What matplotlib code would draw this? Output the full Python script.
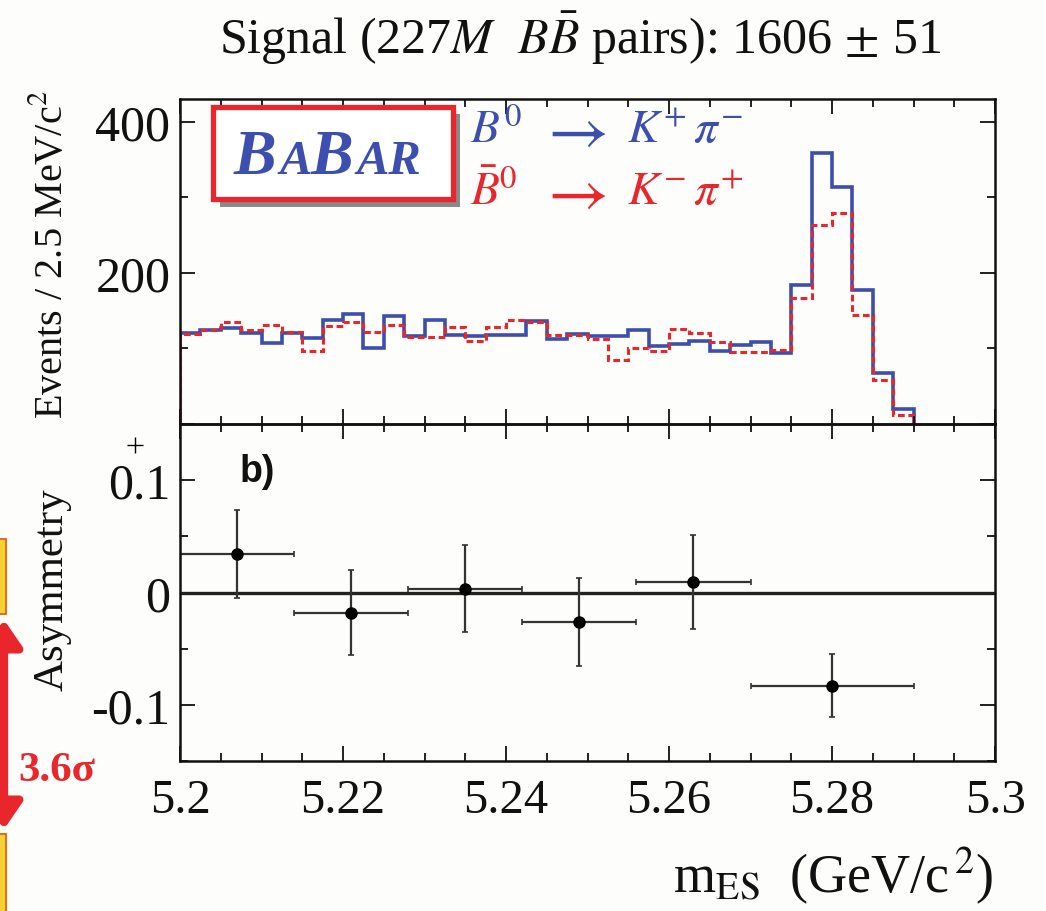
import numpy as np
import matplotlib
matplotlib.use("Agg")
import matplotlib.pyplot as plt
from matplotlib.patches import Rectangle, FancyArrowPatch
from matplotlib.lines import Line2D
from matplotlib.ticker import MultipleLocator, FuncFormatter

# ---------------- data ----------------
mes_lo = 5.2
bin_width = 0.0025
# B0 -> K+ pi-  (blue, solid)
blue_counts = [121, 124, 127, 120, 107, 121, 114, 137, 145, 100,
               143, 116, 137, 118, 116, 118, 118, 136, 113, 119,
               117, 117, 124, 103, 106, 110, 97, 104, 108, 94,
               184, 359, 313, 177, 68, 20]
# B0bar -> K- pi+ (red, dashed)
red_counts = [119, 124, 135, 124, 131, 122, 97, 130, 135, 122,
              131, 115, 115, 129, 110, 128, 137, 135, 118, 118,
              112, 85, 101, 96, 126, 120, 108, 95, 95, 98,
              167, 263, 279, 144, 58, 12]
# asymmetry points
asym_x = [5.207, 5.221, 5.235, 5.249, 5.263, 5.280]
asym_xerr = [0.007, 0.007, 0.007, 0.007, 0.007, 0.010]
asym_y = [0.034, -0.018, 0.0035, -0.0265, 0.0095, -0.083]
asym_yerr = [0.039, 0.038, 0.039, 0.039, 0.042, 0.028]

x_ticks = [5.2, 5.22, 5.24, 5.26, 5.28, 5.3]

# ---------------- style ----------------
plt.rcParams['font.family'] = ['Liberation Serif', 'DejaVu Serif']
plt.rcParams['mathtext.fontset'] = 'stix'
plt.rcParams['axes.unicode_minus'] = False

BLUE = '#3d4fae'
RED = '#e8262b'
BG = '#fdfdfb'

W, H = 1046, 912
fig = plt.figure(figsize=(W / 100, H / 100), dpi=100, facecolor=BG)


def fx(x):
    return x / W


def fy(y):
    return 1 - y / H


ax1 = fig.add_axes([fx(180), fy(425), (995 - 180) / W, (425 - 100) / H])
ax2 = fig.add_axes([fx(180), fy(762), (995 - 180) / W, (762 - 425) / H], sharex=ax1)

edges = mes_lo + bin_width * np.arange(len(blue_counts) + 1)
ax1.stairs(blue_counts, edges, color=BLUE, lw=2.6, baseline=0)
ax1.stairs(red_counts, edges, color=RED, lw=2.2, ls=(0, (2.2, 1.2)), baseline=0)

ax2.axhline(0, color='#222222', lw=2.4)
ax2.errorbar(asym_x, asym_y, xerr=asym_xerr, yerr=asym_yerr, fmt='o', color='black',
             ms=8, ecolor='#333333', elinewidth=1.6, capsize=2, capthick=1.2)

for ax in (ax1, ax2):
    ax.set_facecolor('none')
    ax.tick_params(which='both', direction='in', top=True, right=True,
                   labelsize=36, colors='#111111')
    ax.tick_params(which='major', length=11, width=1.3, pad=7)
    ax.tick_params(which='minor', length=6, width=1.3)
    for s in ax.spines.values():
        s.set_linewidth(1.8)
        s.set_color('#111111')

ax1.set_xlim(5.2, 5.3)
ax1.xaxis.set_major_locator(MultipleLocator(0.02))
ax1.xaxis.set_minor_locator(MultipleLocator(0.005))
ax1.tick_params(labelbottom=False)
ax1.set_ylim(0, 430)
ax1.yaxis.set_major_locator(MultipleLocator(200))
ax1.yaxis.set_minor_locator(MultipleLocator(100))
ax1.yaxis.set_major_formatter(FuncFormatter(lambda v, p: '' if v <= 0 else f'{v:.0f}'))

ax2.set_ylim(-0.15, 0.15)
ax2.yaxis.set_major_locator(MultipleLocator(0.1))
ax2.yaxis.set_minor_locator(MultipleLocator(0.05))
ax2.yaxis.set_major_formatter(FuncFormatter(lambda v, p: '0' if abs(v) < 1e-9 else f'{round(v, 3):g}'))
ax2.set_xticks(x_ticks)
ax2.xaxis.set_minor_locator(MultipleLocator(0.005))
ax2.xaxis.set_major_formatter(FuncFormatter(lambda v, p: f'{round(v, 3):g}'))
ax2.tick_params(axis='x', labelsize=35, pad=12)

# ---------------- texts ----------------
fig.text(fx(580), fy(38), r"Signal (227$M$  $B\bar{B}$ pairs): 1606$\,\pm\,$51",
         ha='center', va='center', fontsize=36, color='#111111')
fig.text(fx(52), fy(255), r"Events / 2.5 MeV/c$^2$", rotation=90, ha='center', va='center',
         fontsize=29, color='#111111')
fig.text(fx(52), fy(590), "Asymmetry", rotation=90, ha='center', va='center',
         fontsize=31, color='#111111')
fig.text(fx(993), fy(893), r"m$_{\mathrm{ES}}$  (GeV/c$^{\,2}$)", ha='right', va='baseline',
         fontsize=39, color='#111111')
fig.text(fx(240), fy(482), "b)", family='Liberation Sans', weight='bold', fontsize=27,
         ha='left', va='baseline', color='#111111')

# legend (particle, arrow, products)
for base, col, lhs, rhs in [(143, BLUE, r"$B^0$", r"$K^{+}\,\pi^{-}$"),
                            (205, RED, r"$\bar{B}^0$", r"$K^{-}\,\pi^{+}$")]:
    fig.text(fx(470), fy(base), lhs, color=col, fontsize=34, ha='left', va='baseline')
    fig.text(fx(538), fy(base + 7), r"$\rightarrow$", color=col, fontsize=48,
             ha='left', va='baseline')
    fig.text(fx(627), fy(base), rhs, color=col, fontsize=34, ha='left', va='baseline')

# BABAR logo box
fig.patches.append(Rectangle((fx(220), fy(208)), (460 - 220) / W, (208 - 115) / H,
                             transform=fig.transFigure, facecolor='#8a8a8a', edgecolor='none'))
fig.patches.append(Rectangle((fx(213), fy(200)), (453 - 213) / W, (200 - 108) / H,
                             transform=fig.transFigure, facecolor='white', edgecolor=RED, lw=3.8))
logo_kw = dict(color=BLUE, weight='bold', style='italic', ha='left', va='baseline')
fig.text(fx(234), fy(174), "B", fontsize=46, **logo_kw)
fig.text(fx(280), fy(174), "A", fontsize=35, **logo_kw)
fig.text(fx(311), fy(174), "B", fontsize=46, **logo_kw)
fig.text(fx(357), fy(174), "AR", fontsize=35, **logo_kw)

# left-side decorations
fig.patches.append(Rectangle((fx(-6), fy(615)), 12 / W, 75 / H, transform=fig.transFigure,
                             facecolor='#f7d234', edgecolor='#e2711d', lw=1.5))
fig.patches.append(Rectangle((fx(-6), fy(915)), 12 / W, 80 / H, transform=fig.transFigure,
                             facecolor='#f7d234', edgecolor='#e2711d', lw=1.5))
fig.patches.append(FancyArrowPatch((fx(4), fy(833)), (fx(4), fy(618)), transform=fig.transFigure,
                                   arrowstyle='<|-|>,head_length=16,head_width=11',
                                   color=RED, lw=6, mutation_scale=1))
fig.text(fx(18), fy(781), "3.6σ", color=RED, weight='bold', fontsize=31,
         ha='left', va='baseline')
fig.add_artist(Line2D([fx(135)], [fy(446)], marker='+', ms=12, mew=1.0, color='black',
                      transform=fig.transFigure))

fig.savefig("out.png", dpi=100, facecolor=BG)
